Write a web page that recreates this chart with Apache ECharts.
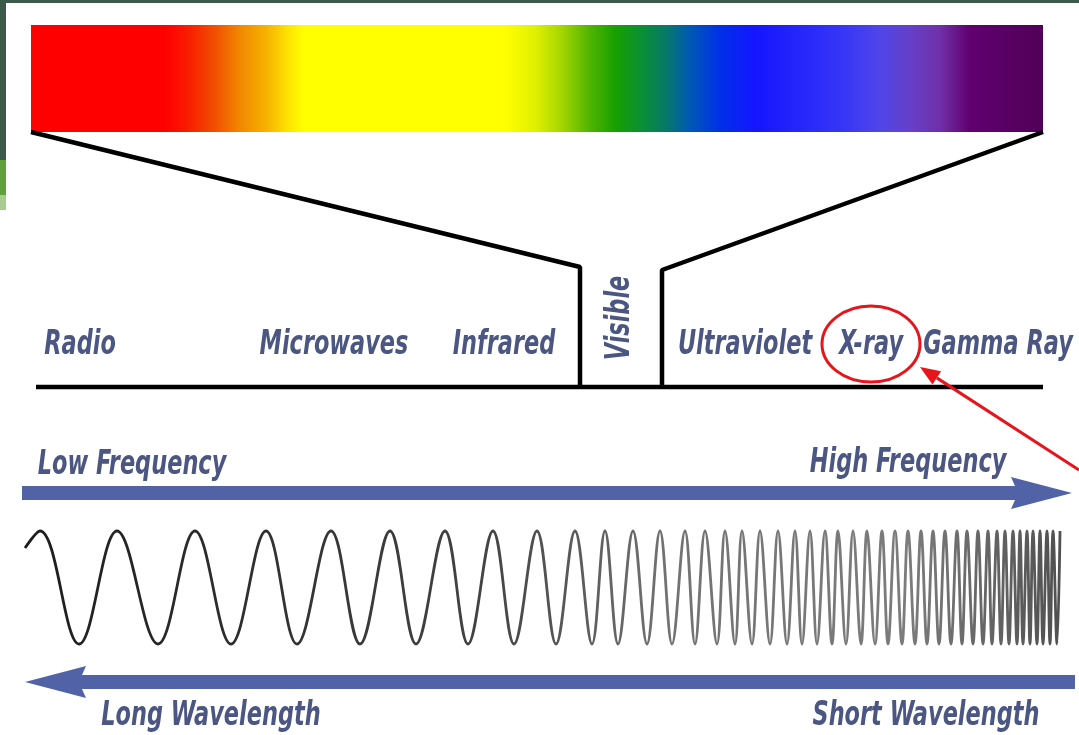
<!DOCTYPE html>
<html><head><meta charset="utf-8">
<script src="https://cdn.jsdelivr.net/npm/echarts@6/dist/echarts.min.js"></script>
<style>html,body{margin:0;padding:0;background:#fff;}#chart{width:1079px;height:735px;}</style>
</head><body><div id="chart"></div>
<script>
// ---------------- data (diagram units) ----------------
const bandNames = ['Radio', 'Microwaves', 'Infrared', 'Visible', 'Ultraviolet', 'X-ray', 'Gamma Ray'];
const bandLabelX = [80, 334, 504, 620, 745, 871, 998];
const bandLabelY = [345, 345, 345, 318, 345, 345, 345];
const bandLabelVertical = [false, false, false, true, false, false, false];

const spectrumStopX = [31, 165, 190, 215, 240, 265, 290, 305, 505, 535, 560, 590, 615, 640, 665, 690, 720, 755, 840, 880, 910, 940, 970, 1043];
const spectrumStopColor = ['#ff0000', '#ff0000', '#f82000', '#f05000', '#f08800', '#f5b000', '#fde800', '#ffff00', '#ffff00', '#e0f000', '#a8d800', '#50b400', '#18a000', '#0a9030', '#077a66', '#0058b4', '#0030e8', '#1515ff', '#3535f8', '#5045e8', '#6540c8', '#7030a8', '#600070', '#520058'];
const spectrumBarX = [31, 1043];
const spectrumBarY = [25, 132];

const funnelLeft = [[31, 132], [580, 267], [580, 387]];
const funnelRight = [[1043, 132], [662, 270], [662, 387]];
const baseLine = [[36, 387], [1043, 387]];

const waveStart = [25, 548];
const waveCrestY = 531;
const waveTroughY = 644;
const waveCrestX = [40, 117, 195, 266, 331, 390, 445, 493, 537, 575, 605, 633, 660, 685, 705, 725, 742, 760, 778, 795, 810, 825, 838, 853, 867, 882, 895, 908, 921, 933, 945, 957, 967, 978, 988, 997, 1005, 1013, 1020, 1027, 1033, 1040, 1047, 1053, 1060];
const waveTroughX = [79, 158, 231, 297, 360, 416, 468, 514, 556, 592, 618, 647, 672, 695, 717, 735, 752, 770, 787, 802, 817, 832, 846, 861, 875, 888, 902, 915, 927, 939, 951, 962, 973, 983, 992, 1001, 1009, 1017, 1023, 1030, 1037, 1043, 1050, 1057];

const directionLabels = ['Low Frequency', 'High Frequency', 'Long Wavelength', 'Short Wavelength'];
const directionLabelX = [132, 908, 211, 926];
const directionLabelY = [465, 463, 716, 716];

const arrowFromX = [22, 1075];
const arrowToX = [1072, 25];
const arrowY = [493, 682];

const highlightCenter = [871, 344];
const highlightRadius = [49, 38];
const pointerFrom = [1079, 470];
const pointerTo = [920, 367];

// ---------------- build ----------------
const chart = echarts.init(document.getElementById('chart'));

const waveData = [waveStart];
(function () {
  const pts = [];
  waveCrestX.forEach(x => pts.push([x, waveCrestY]));
  waveTroughX.forEach(x => pts.push([x, waveTroughY]));
  pts.sort((a, b) => a[0] - b[0]);
  pts.forEach(p => waveData.push(p));
})();

const spectrumGradientStops = spectrumStopX.map((x, i) => ({
  offset: (x - spectrumBarX[0]) / (spectrumBarX[1] - spectrumBarX[0]),
  color: spectrumStopColor[i]
}));

const labelColor = '#4b5682';
const labelFont = 'italic bold 33px "DejaVu Sans"';

function textItem(text, p, vertical) {
  return {
    type: 'text', x: p[0], y: p[1],
    rotation: vertical ? Math.PI / 2 : 0,
    scaleX: 0.68,
    style: { text: text, fill: labelColor, font: labelFont, align: 'center', verticalAlign: 'middle' }
  };
}

const blackLine = { color: '#000', width: 4.5 };

const option = {
  animation: false,
  backgroundColor: '#ffffff',
  grid: { left: 0, right: 0, top: 0, bottom: 0 },
  xAxis: { type: 'value', min: 0, max: 1079, show: false },
  yAxis: { type: 'value', min: 0, max: 735, inverse: true, show: false },
  graphic: [
    { type: 'rect', shape: { x: 0, y: 0, width: 1079, height: 3 }, style: { fill: '#3c5a49' }, z: 100 },
    { type: 'rect', shape: { x: 0, y: 0, width: 6, height: 160 }, style: { fill: '#3c5a49' }, z: 100 },
    { type: 'rect', shape: { x: 0, y: 160, width: 6, height: 35 }, style: { fill: '#62a03e' }, z: 100 },
    { type: 'rect', shape: { x: 0, y: 195, width: 6, height: 15 }, style: { fill: '#a8cc92' }, z: 100 }
  ],
  series: [
    {
      type: 'custom', name: 'spectrum', z: 1,
      data: [[spectrumBarX[0], spectrumBarY[0], spectrumBarX[1], spectrumBarY[1]]],
      renderItem: function (params, api) {
        const p0 = api.coord([api.value(0), api.value(1)]);
        const p1 = api.coord([api.value(2), api.value(3)]);
        return {
          type: 'rect',
          shape: { x: p0[0], y: p0[1], width: p1[0] - p0[0], height: p1[1] - p0[1] },
          style: { fill: new echarts.graphic.LinearGradient(0, 0, 1, 0, spectrumGradientStops) }
        };
      }
    },
    { type: 'line', data: funnelLeft, symbol: 'none', lineStyle: blackLine, z: 3 },
    { type: 'line', data: funnelRight, symbol: 'none', lineStyle: blackLine, z: 3 },
    { type: 'line', data: baseLine, symbol: 'none', lineStyle: blackLine, z: 3 },
    {
      type: 'custom', name: 'bandLabels', z: 5,
      data: bandLabelX.map((x, i) => [x, bandLabelY[i]]),
      renderItem: function (params, api) {
        const p = api.coord([api.value(0), api.value(1)]);
        return textItem(bandNames[params.dataIndex], p, bandLabelVertical[params.dataIndex]);
      }
    },
    {
      type: 'custom', name: 'directionLabels', z: 5,
      data: directionLabelX.map((x, i) => [x, directionLabelY[i]]),
      renderItem: function (params, api) {
        const p = api.coord([api.value(0), api.value(1)]);
        return textItem(directionLabels[params.dataIndex], p, false);
      }
    },
    {
      type: 'custom', name: 'arrows', z: 4,
      data: arrowFromX.map((x, i) => [x, arrowToX[i], arrowY[i]]),
      renderItem: function (params, api) {
        const a = api.coord([api.value(0), api.value(2)]);
        const b = api.coord([api.value(1), api.value(2)]);
        const dir = b[0] > a[0] ? 1 : -1;
        const hb = b[0] - dir * 57, y = a[1], sw = 7, hh = 16;
        return {
          type: 'polygon',
          shape: { points: [[a[0], y - sw], [hb, y - sw], [hb - dir * 4, y - hh], [b[0], y], [hb - dir * 4, y + hh], [hb, y + sw], [a[0], y + sw]] },
          style: { fill: '#5163a6' }
        };
      }
    },
    {
      type: 'line', name: 'wave', data: waveData, symbol: 'none', smooth: 0.38, z: 3,
      lineStyle: {
        width: 2.8,
        color: new echarts.graphic.LinearGradient(0, 0, 1, 0, [
          { offset: 0, color: '#1c1c1c' },
          { offset: 0.45, color: '#444444' },
          { offset: 0.62, color: '#727272' },
          { offset: 0.85, color: '#7c7c7c' },
          { offset: 1, color: '#505050' }
        ])
      }
    },
    {
      type: 'custom', name: 'highlight', z: 6,
      data: [[highlightCenter[0], highlightCenter[1], highlightRadius[0], highlightRadius[1]]],
      renderItem: function (params, api) {
        const c = api.coord([api.value(0), api.value(1)]);
        const e = api.coord([api.value(0) + api.value(2), api.value(1) + api.value(3)]);
        return {
          type: 'ellipse',
          shape: { cx: c[0], cy: c[1], rx: e[0] - c[0], ry: e[1] - c[1] },
          style: { fill: 'none', stroke: '#e8141c', lineWidth: 3 }
        };
      }
    },
    {
      type: 'custom', name: 'pointer', z: 6,
      data: [[pointerFrom[0], pointerFrom[1], pointerTo[0], pointerTo[1]]],
      renderItem: function (params, api) {
        const a = api.coord([api.value(0), api.value(1)]);
        const b = api.coord([api.value(2), api.value(3)]);
        const dx = b[0] - a[0], dy = b[1] - a[1], L = Math.sqrt(dx * dx + dy * dy);
        const ux = dx / L, uy = dy / L, nx = -uy, ny = ux;
        const hl = 20, hw = 8;
        const bx = b[0] - ux * hl, by = b[1] - uy * hl;
        return {
          type: 'group',
          children: [
            { type: 'line', shape: { x1: a[0], y1: a[1], x2: bx, y2: by }, style: { stroke: '#e8141c', lineWidth: 3 } },
            { type: 'polygon', shape: { points: [[b[0], b[1]], [bx + nx * hw, by + ny * hw], [bx - nx * hw, by - ny * hw]] }, style: { fill: '#e8141c' } }
          ]
        };
      }
    }
  ]
};
chart.setOption(option);
</script>
</body></html>
